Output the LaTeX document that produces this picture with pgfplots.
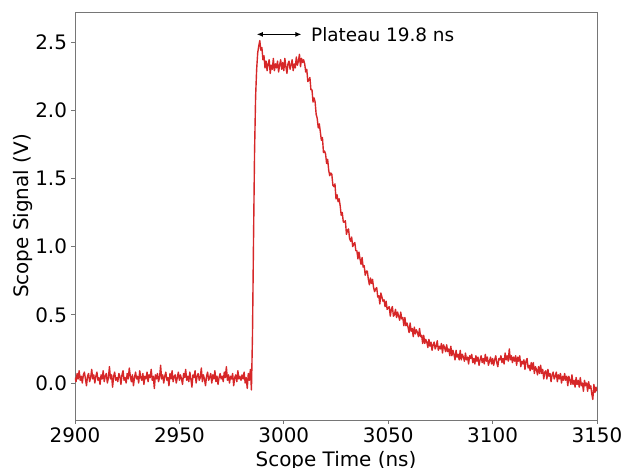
\documentclass[border=0pt]{standalone}
\usepackage{pgfplots}
\pgfplotsset{compat=1.18}
\usetikzlibrary{arrows.meta}
\usepackage{fontspec}
\setmainfont{DejaVu Sans}
\definecolor{tabred}{HTML}{D62728}
\definecolor{spine}{HTML}{767676}
\begin{document}
\begin{tikzpicture}
\path[use as bounding box] (-75bp,-48bp) rectangle (548bp,420bp);
\begin{axis}[
 at={(0,0)}, anchor=south west,
 scale only axis, width=522bp, height=408bp,
 xmin=2900, xmax=3150, ymin=-0.271, ymax=2.72,
 xtick={2900,2950,...,3150}, ytick={0,0.5,1,1.5,2,2.5},
 axis line style={spine, line width=0.8bp},
 tick style={spine, line width=0.8bp}, major tick length=3.5bp,
 tick align=outside, xtick pos=bottom, ytick pos=left,
 ticklabel style={font=\fontsize{20}{22}\selectfont},
 xticklabel style={anchor=base, yshift=-19bp},
 yticklabel style={anchor=east, xshift=-1bp},
 label style={font=\fontsize{20}{22}\selectfont},
 /pgf/number format/assume math mode=true,
 xticklabel style={/pgf/number format/1000 sep={}},
 yticklabel style={/pgf/number format/fixed, /pgf/number format/fixed zerofill, /pgf/number format/precision=1},
 xlabel={Scope Time (ns)}, ylabel={Scope Signal (V)},
 xlabel style={at={(axis description cs:0.5,0)}, anchor=base, yshift=-46.6bp},
 ylabel style={at={(axis description cs:-0.090,0.5)}, anchor=base, rotate=0},
 clip=true,
]
\addplot[tabred, line width=1.4bp, mark=none, line join=round] coordinates {
(2900.0,0.04)(2900.5,0.01)(2901.0,0.07)(2901.5,0.03)(2902.0,0.09)(2902.5,0.02)(2903.0,0.05)(2903.5,0.00)(2904.0,0.06)(2904.5,0.08)
(2905.0,0.03)(2905.5,-0.02)(2906.0,0.05)(2906.5,0.07)(2907.0,0.01)(2907.5,0.04)(2908.0,0.10)(2908.5,0.03)(2909.0,0.06)(2909.5,0.00)
(2910.0,0.05)(2910.5,0.08)(2911.0,0.02)(2911.5,0.04)(2912.0,-0.01)(2912.5,0.06)(2913.0,0.03)(2913.5,0.09)(2914.0,0.01)(2914.5,0.05)
(2915.0,0.07)(2915.5,0.00)(2916.0,0.04)(2916.5,0.12)(2917.0,0.03)(2917.5,0.06)(2918.0,-0.03)(2918.5,0.05)(2919.0,0.08)(2919.5,0.02)
(2920.0,0.04)(2920.5,0.01)(2921.0,0.07)(2921.5,0.05)(2922.0,-0.01)(2922.5,0.06)(2923.0,0.09)(2923.5,0.02)(2924.0,0.04)(2924.5,0.00)
(2925.0,0.07)(2925.5,0.03)(2926.0,0.11)(2926.5,0.05)(2927.0,0.01)(2927.5,0.06)(2928.0,-0.02)(2928.5,0.04)(2929.0,0.08)(2929.5,0.03)
(2930.0,0.05)(2930.5,0.00)(2931.0,0.09)(2931.5,0.04)(2932.0,0.02)(2932.5,0.07)(2933.0,-0.01)(2933.5,0.05)(2934.0,0.03)(2934.5,0.08)
(2935.0,0.01)(2935.5,0.06)(2936.0,0.04)(2936.5,0.10)(2937.0,0.02)(2937.5,0.05)(2938.0,-0.04)(2938.5,0.06)(2939.0,0.03)(2939.5,0.07)
(2940.0,0.01)(2940.5,0.04)(2941.0,0.13)(2941.5,0.03)(2942.0,0.06)(2942.5,0.00)(2943.0,0.05)(2943.5,0.08)(2944.0,0.02)(2944.5,0.04)
(2945.0,-0.02)(2945.5,0.07)(2946.0,0.03)(2946.5,0.09)(2947.0,0.01)(2947.5,0.05)(2948.0,0.06)(2948.5,0.00)(2949.0,0.04)(2949.5,0.08)
(2950.0,0.02)(2950.5,0.06)(2951.0,0.03)(2951.5,-0.01)(2952.0,0.07)(2952.5,0.04)(2953.0,0.10)(2953.5,0.02)(2954.0,0.05)(2954.5,0.01)
(2955.0,0.08)(2955.5,0.03)(2956.0,-0.03)(2956.5,0.06)(2957.0,0.04)(2957.5,0.09)(2958.0,0.00)(2958.5,0.05)(2959.0,0.07)(2959.5,0.02)
(2960.0,0.04)(2960.5,0.11)(2961.0,0.01)(2961.5,0.06)(2962.0,0.03)(2962.5,-0.02)(2963.0,0.05)(2963.5,0.08)(2964.0,0.02)(2964.5,0.04)
(2965.0,0.07)(2965.5,0.00)(2966.0,0.06)(2966.5,0.03)(2967.0,0.09)(2967.5,0.01)(2968.0,0.05)(2968.5,-0.01)(2969.0,0.04)(2969.5,0.07)
(2970.0,0.03)(2970.5,0.05)(2971.0,0.01)(2971.5,0.08)(2972.0,0.04)(2972.5,0.12)(2973.0,0.02)(2973.5,0.06)(2974.0,0.00)(2974.5,0.05)
(2975.0,0.03)(2975.5,0.07)(2976.0,-0.02)(2976.5,0.04)(2977.0,0.06)(2977.5,0.01)(2978.0,0.09)(2978.5,0.03)(2979.0,0.05)(2979.5,0.02)
(2980.0,0.06)(2980.5,0.03)(2981.0,0.08)(2981.5,0.00)(2982.0,0.04)(2982.5,-0.04)(2983.0,0.07)(2983.5,0.02)(2984.0,0.10)(2984.5,-0.05)
(2985.0,0.35)(2985.5,1.05)(2986.0,1.70)(2986.5,2.10)(2987.0,2.30)(2987.5,2.42)(2988.0,2.47)(2988.5,2.51)(2989.0,2.44)(2989.5,2.46)
(2990.0,2.37)(2990.5,2.40)(2991.0,2.31)(2991.5,2.36)(2992.0,2.29)(2992.5,2.34)(2993.0,2.37)(2993.5,2.27)(2994.0,2.33)(2994.5,2.30)
(2995.0,2.38)(2995.5,2.29)(2996.0,2.34)(2996.5,2.31)(2997.0,2.36)(2997.5,2.28)(2998.0,2.33)(2998.5,2.37)(2999.0,2.30)(2999.5,2.35)
(3000.0,2.29)(3000.5,2.38)(3001.0,2.32)(3001.5,2.27)(3002.0,2.34)(3002.5,2.36)(3003.0,2.30)(3003.5,2.33)(3004.0,2.37)(3004.5,2.29)
(3005.0,2.34)(3005.5,2.31)(3006.0,2.39)(3006.5,2.33)(3007.0,2.36)(3007.5,2.41)(3008.0,2.32)(3008.5,2.38)(3009.0,2.35)(3009.5,2.37)
(3010.0,2.34)(3010.5,2.28)(3011.0,2.30)(3011.5,2.21)(3012.0,2.22)(3012.5,2.24)(3013.0,2.15)(3013.5,2.15)(3014.0,2.06)(3014.5,2.09)
(3015.0,2.06)(3015.5,1.97)(3016.0,1.94)(3016.5,1.87)(3017.0,1.90)(3017.5,1.84)(3018.0,1.78)(3018.5,1.80)(3019.0,1.69)(3019.5,1.70)
(3020.0,1.68)(3020.5,1.61)(3021.0,1.64)(3021.5,1.56)(3022.0,1.52)(3022.5,1.54)(3023.0,1.53)(3023.5,1.45)(3024.0,1.44)(3024.5,1.46)
(3025.0,1.35)(3025.5,1.38)(3026.0,1.33)(3026.5,1.35)(3027.0,1.30)(3027.5,1.23)(3028.0,1.25)(3028.5,1.18)(3029.0,1.18)(3029.5,1.19)
(3030.0,1.09)(3030.5,1.12)(3031.0,1.13)(3031.5,1.06)(3032.0,1.04)(3032.5,1.07)(3033.0,1.00)(3033.5,1.02)(3034.0,1.03)(3034.5,0.97)
(3035.0,0.97)(3035.5,0.91)(3036.0,0.96)(3036.5,0.91)(3037.0,0.87)(3037.5,0.92)(3038.0,0.85)(3038.5,0.86)(3039.0,0.79)(3039.5,0.82)
(3040.0,0.82)(3040.5,0.76)(3041.0,0.72)(3041.5,0.77)(3042.0,0.73)(3042.5,0.76)(3043.0,0.70)(3043.5,0.67)(3044.0,0.69)(3044.5,0.70)
(3045.0,0.63)(3045.5,0.64)(3046.0,0.58)(3046.5,0.66)(3047.0,0.63)(3047.5,0.60)(3048.0,0.61)(3048.5,0.56)(3049.0,0.60)(3049.5,0.54)
(3050.0,0.55)(3050.5,0.56)(3051.0,0.49)(3051.5,0.54)(3052.0,0.56)(3052.5,0.49)(3053.0,0.50)(3053.5,0.54)(3054.0,0.48)(3054.5,0.52)
(3055.0,0.49)(3055.5,0.46)(3056.0,0.52)(3056.5,0.47)(3057.0,0.48)(3057.5,0.42)(3058.0,0.48)(3058.5,0.42)(3059.0,0.44)(3059.5,0.41)
(3060.0,0.37)(3060.5,0.44)(3061.0,0.38)(3061.5,0.40)(3062.0,0.34)(3062.5,0.41)(3063.0,0.36)(3063.5,0.39)(3064.0,0.37)(3064.5,0.34)
(3065.0,0.40)(3065.5,0.34)(3066.0,0.35)(3066.5,0.29)(3067.0,0.35)(3067.5,0.29)(3068.0,0.32)(3068.5,0.30)(3069.0,0.26)(3069.5,0.32)
(3070.0,0.27)(3070.5,0.30)(3071.0,0.24)(3071.5,0.28)(3072.0,0.30)(3072.5,0.25)(3073.0,0.27)(3073.5,0.31)(3074.0,0.24)(3074.5,0.27)
(3075.0,0.25)(3075.5,0.29)(3076.0,0.22)(3076.5,0.28)(3077.0,0.26)(3077.5,0.23)(3078.0,0.28)(3078.5,0.23)(3079.0,0.25)(3079.5,0.20)
(3080.0,0.27)(3080.5,0.20)(3081.0,0.24)(3081.5,0.21)(3082.0,0.17)(3082.5,0.24)(3083.0,0.19)(3083.5,0.21)(3084.0,0.17)(3084.5,0.24)
(3085.0,0.17)(3085.5,0.21)(3086.0,0.19)(3086.5,0.16)(3087.0,0.22)(3087.5,0.17)(3088.0,0.19)(3088.5,0.14)(3089.0,0.20)(3089.5,0.18)
(3090.0,0.21)(3090.5,0.15)(3091.0,0.18)(3091.5,0.14)(3092.0,0.20)(3092.5,0.16)(3093.0,0.19)(3093.5,0.13)(3094.0,0.17)(3094.5,0.20)
(3095.0,0.15)(3095.5,0.18)(3096.0,0.14)(3096.5,0.21)(3097.0,0.16)(3097.5,0.19)(3098.0,0.13)(3098.5,0.16)(3099.0,0.19)(3099.5,0.14)
(3100.0,0.18)(3100.5,0.13)(3101.0,0.17)(3101.5,0.20)(3102.0,0.15)(3102.5,0.12)(3103.0,0.18)(3103.5,0.17)(3104.0,0.20)(3104.5,0.15)
(3105.0,0.18)(3105.5,0.14)(3106.0,0.22)(3106.5,0.17)(3107.0,0.20)(3107.5,0.16)(3108.0,0.25)(3108.5,0.17)(3109.0,0.20)(3109.5,0.15)
(3110.0,0.19)(3110.5,0.16)(3111.0,0.20)(3111.5,0.13)(3112.0,0.19)(3112.5,0.16)(3113.0,0.20)(3113.5,0.12)(3114.0,0.16)(3114.5,0.14)
(3115.0,0.17)(3115.5,0.10)(3116.0,0.16)(3116.5,0.18)(3117.0,0.11)(3117.5,0.13)(3118.0,0.09)(3118.5,0.15)(3119.0,0.10)(3119.5,0.15)
(3120.0,0.07)(3120.5,0.12)(3121.0,0.10)(3121.5,0.06)(3122.0,0.12)(3122.5,0.07)(3123.0,0.13)(3123.5,0.07)(3124.0,0.10)(3124.5,0.03)
(3125.0,0.08)(3125.5,0.09)(3126.0,0.03)(3126.5,0.10)(3127.0,0.05)(3127.5,0.07)(3128.0,0.01)(3128.5,0.06)(3129.0,0.08)(3129.5,0.03)
(3130.0,0.05)(3130.5,0.08)(3131.0,0.01)(3131.5,0.06)(3132.0,0.03)(3132.5,0.07)(3133.0,0.00)(3133.5,0.05)(3134.0,0.02)(3134.5,0.07)
(3135.0,0.02)(3135.5,0.05)(3136.0,-0.02)(3136.5,0.05)(3137.0,0.02)(3137.5,-0.01)(3138.0,0.06)(3138.5,-0.01)(3139.0,0.02)(3139.5,-0.03)
(3140.0,0.04)(3140.5,-0.01)(3141.0,0.02)(3141.5,-0.03)(3142.0,0.04)(3142.5,-0.02)(3143.0,0.00)(3143.5,-0.06)(3144.0,0.02)(3144.5,-0.02)
(3145.0,0.00)(3145.5,-0.06)(3146.0,0.01)(3146.5,-0.04)(3147.0,-0.02)(3147.5,-0.08)(3148.0,-0.12)(3148.5,-0.01)(3149.0,-0.07)(3149.5,-0.03)
(3150.0,-0.06)
};
\draw[{Latex[length=6bp,width=5bp]}-{Latex[length=6bp,width=5bp]}, line width=0.9bp] (axis cs:2987.1,2.556) -- (axis cs:3008.4,2.556);
\node[anchor=west, inner sep=0pt, font=\fontsize{18.5}{20}\selectfont] at (axis cs:3013.0,2.556) {Plateau 19.8 ns};
\end{axis}
\end{tikzpicture}
\end{document}
